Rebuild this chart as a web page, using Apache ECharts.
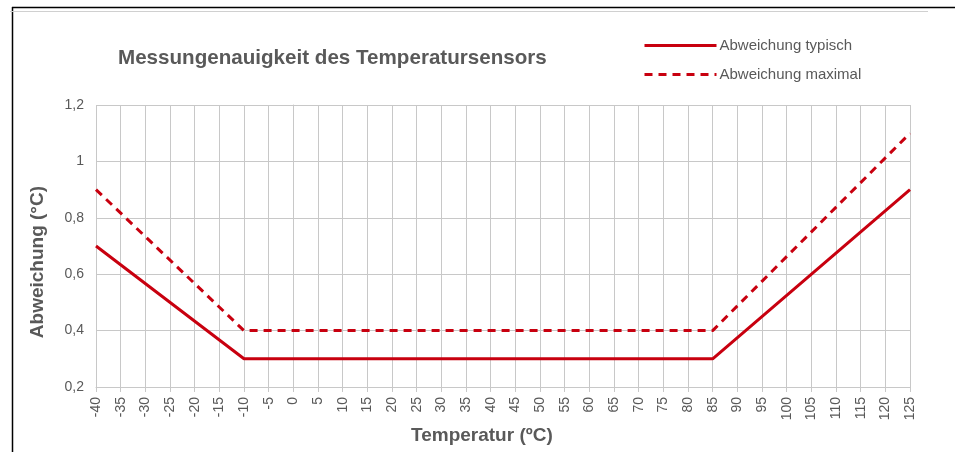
<!DOCTYPE html>
<html>
<head>
<meta charset="utf-8">
<script src="https://cdn.jsdelivr.net/npm/echarts@6/dist/echarts.min.js"></script>
<style>
  html, body { margin: 0; padding: 0; background: #fff; }
  #chart { width: 955px; height: 452px; }
</style>
</head>
<body>
<div id="chart"></div>
<script>
// Temperature range of the sensor (°C) and its deviation at the break points
const tempTicks = { min: -40, max: 125, step: 5 };
const typischTemps = [-40, -10, 85, 125];
const typischValues = [0.7, 0.3, 0.3, 0.9];
const maximalTemps = [-40, -10, 85, 125];
const maximalValues = [0.9, 0.4, 0.4, 1.1];
const yTicks = { min: 0.2, max: 1.2, step: 0.2 };

const seriesNames = ['Abweichung typisch', 'Abweichung maximal'];
const titleText = 'Messungenauigkeit des Temperatursensors';
const yName = 'Abweichung (°C)';
const xName = 'Temperatur (ºC)';

const red = '#c8000f';
const textGray = '#595959';
const gridGray = '#c8c8c8';
const font = '"Liberation Sans", Arial, sans-serif';

const pairs = (xs, ys) => xs.map((x, i) => [x, ys[i]]);

const chart = echarts.init(document.getElementById('chart'), null, { renderer: 'canvas' });
chart.setOption({
  animation: false,
  backgroundColor: '#fff',
  textStyle: { fontFamily: font },
  grid: { left: 96, right: 45, top: 105, bottom: 65, containLabel: false },
  legend: {
    orient: 'vertical',
    left: 643,
    top: 38,
    padding: 0,
    itemWidth: 72,
    itemHeight: 14,
    itemGap: 14,
    itemStyle: { opacity: 0 },
    lineStyle: { width: 3 },
    textStyle: { color: textGray, fontSize: 15, fontFamily: font, padding: [0, 0, 0, -2] },
    data: seriesNames
  },
  xAxis: {
    type: 'value',
    min: tempTicks.min,
    max: tempTicks.max,
    interval: tempTicks.step,
    axisLine: { show: true, lineStyle: { color: gridGray, width: 1 } },
    axisTick: { show: true, length: 5, lineStyle: { color: gridGray } },
    splitLine: { show: true, lineStyle: { color: gridGray, width: 1 } },
    axisLabel: { rotate: 90, color: textGray, fontSize: 14, margin: 10 }
  },
  yAxis: {
    type: 'value',
    min: yTicks.min,
    max: yTicks.max,
    interval: yTicks.step,
    axisLine: { show: true, lineStyle: { color: gridGray, width: 1 } },
    axisTick: { show: true, length: 5, lineStyle: { color: gridGray } },
    splitLine: { show: true, lineStyle: { color: gridGray, width: 1 } },
    axisLabel: {
      color: textGray, fontSize: 14, margin: 12,
      formatter: v => String(Math.round(v * 10) / 10).replace('.', ',')
    }
  },
  series: [
    {
      name: seriesNames[0],
      type: 'line',
      data: pairs(typischTemps, typischValues),
      showSymbol: false,
      symbol: 'none',
      lineStyle: { color: red, width: 3 },
      itemStyle: { color: red }
    },
    {
      name: seriesNames[1],
      type: 'line',
      data: pairs(maximalTemps, maximalValues),
      showSymbol: false,
      symbol: 'none',
      lineStyle: { color: red, width: 3, type: [8, 6] },
      itemStyle: { color: red }
    }
  ],
  graphic: [
    // frame edges
    { type: 'line', shape: { x1: 12, y1: 7.5, x2: 955, y2: 7.5 }, style: { stroke: '#000', lineWidth: 1.5 }, silent: true },
    { type: 'line', shape: { x1: 12.5, y1: 7, x2: 12.5, y2: 452 }, style: { stroke: '#000', lineWidth: 1.5 }, silent: true },
    { type: 'line', shape: { x1: 10, y1: 11.5, x2: 928, y2: 11.5 }, style: { stroke: '#d0d0d0', lineWidth: 1 }, silent: true },
    {
      type: 'text', left: 118, top: 48,
      style: { text: titleText, fill: textGray, font: 'bold 20.6px ' + font }
    },
    {
      type: 'text', left: 28, top: 186, rotation: Math.PI / 2,
      style: { text: yName, fill: textGray, font: 'bold 19px ' + font }
    },
    {
      type: 'text', left: 411, top: 426,
      style: { text: xName, fill: textGray, font: 'bold 19px ' + font }
    }
  ]
});
</script>
</body>
</html>
